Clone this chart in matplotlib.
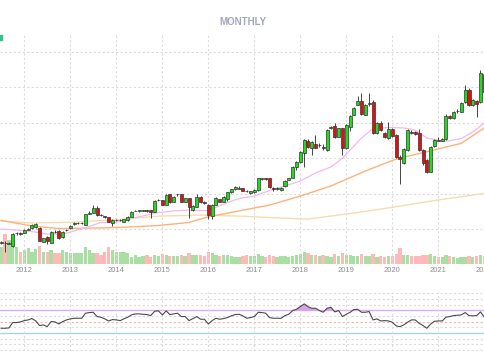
import numpy as np
import pandas as pd
import matplotlib
matplotlib.use("Agg")
import matplotlib.pyplot as plt
import matplotlib.dates as mdates
from matplotlib.patches import Rectangle

# ---------------- data ----------------
months = pd.date_range("2011-07-01", "2022-01-01", freq="MS")

opens = [92.2, 92.4, 91.8, 90.6, 97.5, 98.0, 97.7, 99.7, 100.6, 101.1,
         100.7, 92.8, 95.5, 92.3, 98.6, 99.0, 95.3, 99.2, 100.4, 103.1,
         103.2, 103.3, 102.3, 108.7, 109.2, 111.7, 107.9, 107.3, 106.6, 103.6,
         104.9, 104.9, 103.9, 105.1, 106.9, 110.2, 110.3, 110.4, 110.5, 110.7,
         109.8, 116.1, 116.4, 113.5, 119.6, 115.4, 119.5, 119.6, 115.4, 117.3,
         110.7, 112.6, 118.2, 115.1, 113.5, 107.3, 113.5, 116.8, 115.4, 117.0,
         120.7, 122.4, 122.8, 123.0, 121.4, 120.3, 120.9, 122.0, 128.2, 128.5,
         128.6, 123.1, 122.6, 122.0, 124.0, 127.6, 128.8, 135.1, 138.0, 142.7,
         149.6, 145.9, 147.8, 147.2, 146.0, 144.6, 157.0, 158.3, 152.1, 156.8,
         145.5, 157.5, 164.3, 169.9, 172.4, 164.3, 170.6, 171.8, 154.0, 160.0,
         154.0, 151.2, 156.2, 153.0, 140.8, 137.1, 144.6, 154.9, 154.9, 154.1,
         144.6, 138.9, 132.3, 146.8, 150.0, 149.9, 150.6, 163.7, 162.8, 166.3,
         166.2, 171.8, 178.4, 169.9, 172.4, 171.8, 187.4]
closes = [92.5, 92.1, 92.1, 97.2, 97.7, 97.2, 99.4, 100.0, 102.5, 102.8,
          93.4, 94.8, 93.5, 98.5, 98.3, 94.8, 98.5, 99.7, 101.9, 103.4,
          103.4, 103.5, 108.5, 109.2, 111.7, 107.9, 107.7, 106.6, 104.1, 105.1,
          105.1, 105.2, 105.5, 106.9, 109.8, 110.3, 110.5, 110.5, 110.3, 109.8,
          115.8, 116.4, 113.5, 119.2, 115.4, 118.2, 119.6, 115.4, 117.3, 112.2,
          113.0, 118.2, 115.4, 114.8, 107.9, 113.5, 117.3, 115.4, 118.2, 120.7,
          122.4, 123.5, 123.0, 121.4, 121.3, 121.2, 122.0, 128.6, 128.5, 128.3,
          123.9, 122.8, 122.9, 123.3, 127.2, 128.6, 135.1, 137.6, 143.6, 150.2,
          146.4, 148.9, 145.9, 147.5, 145.7, 155.8, 157.4, 152.1, 156.8, 145.5,
          158.7, 163.9, 168.4, 172.4, 164.7, 169.9, 171.0, 154.0, 159.6, 155.8,
          151.7, 156.2, 152.5, 140.8, 139.3, 145.0, 155.8, 154.0, 153.6, 144.6,
          137.1, 132.3, 146.4, 150.2, 149.9, 150.5, 163.7, 162.4, 166.2, 166.6,
          171.2, 178.4, 169.9, 172.8, 170.5, 187.8, 177.3]
highs = [93.2, 93.0, 92.7, 97.7, 98.6, 98.6, 100.0, 100.6, 103.1, 103.4,
         101.1, 94.9, 95.8, 98.9, 99.2, 99.4, 98.9, 100.3, 102.3, 103.9,
         103.9, 104.0, 108.7, 109.9, 113.3, 113.0, 108.5, 107.6, 106.8, 105.4,
         105.6, 105.7, 105.9, 107.3, 110.2, 111.0, 111.0, 111.0, 111.0, 111.0,
         116.4, 116.9, 116.6, 120.0, 120.0, 118.6, 120.0, 120.0, 117.5, 117.5,
         113.5, 119.7, 118.9, 115.8, 114.1, 114.1, 118.0, 116.9, 118.6, 120.9,
         122.6, 124.0, 124.3, 123.1, 122.0, 121.7, 122.6, 129.0, 129.0, 129.0,
         129.0, 123.7, 123.5, 123.7, 127.6, 129.0, 135.5, 138.1, 144.0, 150.8,
         150.8, 149.6, 153.0, 148.5, 147.9, 156.4, 158.1, 159.8, 157.2, 157.2,
         159.2, 164.3, 168.8, 175.2, 176.7, 170.5, 176.7, 172.8, 160.3, 160.9,
         154.7, 160.4, 156.7, 153.6, 141.7, 145.7, 156.4, 155.6, 155.5, 156.4,
         145.1, 139.5, 146.8, 150.8, 151.9, 151.3, 164.9, 164.3, 166.6, 167.7,
         171.6, 181.2, 179.5, 173.3, 172.8, 189.7, 189.7]
lows = [91.5, 87.2, 91.3, 90.1, 96.9, 96.6, 97.5, 99.2, 100.3, 100.8,
        93.0, 92.7, 91.4, 92.1, 98.0, 94.4, 94.9, 98.9, 100.2, 102.5,
        102.8, 102.8, 102.0, 108.5, 109.0, 107.6, 107.3, 106.2, 103.9, 101.7,
        104.5, 104.3, 103.7, 104.8, 106.8, 109.9, 109.8, 109.9, 109.8, 106.0,
        109.6, 115.8, 113.3, 113.3, 114.9, 115.2, 118.9, 115.2, 115.2, 106.4,
        110.4, 112.4, 114.9, 114.1, 105.6, 105.9, 113.3, 115.2, 115.2, 115.8,
        120.3, 122.0, 122.3, 121.2, 120.8, 119.7, 120.3, 121.7, 127.9, 127.6,
        123.1, 121.4, 122.0, 121.7, 123.8, 127.4, 128.6, 133.3, 137.5, 135.1,
        145.7, 141.7, 145.4, 146.2, 144.6, 144.0, 156.4, 151.3, 151.6, 141.7,
        145.1, 155.3, 164.0, 169.7, 164.3, 164.0, 169.4, 153.6, 153.3, 155.3,
        151.3, 150.8, 151.6, 140.0, 125.4, 136.7, 144.0, 153.6, 153.0, 144.0,
        136.1, 131.6, 131.9, 146.2, 149.6, 149.6, 150.2, 162.0, 162.3, 165.4,
        166.0, 171.3, 169.4, 169.4, 163.3, 171.1, 176.1]
volumes = [17, 30, 24, 27, 17, 12, 14, 16, 12, 15,
           18, 12, 12, 14, 11, 11, 14, 12, 11, 11,
           11, 11, 17, 14, 11, 11, 9, 12, 17, 14,
           12, 12, 12, 11, 7, 9, 7, 8, 9, 7,
           9, 8, 10, 9, 8, 8, 8, 9, 8, 11,
           9, 9, 9, 8, 12, 11, 9, 8, 9, 9,
           8, 7, 7, 8, 9, 8, 8, 10, 8, 7,
           9, 8, 7, 8, 8, 7, 8, 9, 10, 12,
           11, 9, 9, 8, 9, 8, 7, 10, 8, 11,
           9, 9, 8, 8, 10, 8, 8, 10, 7, 8,
           7, 8, 8, 10, 16, 9, 9, 8, 8, 8,
           9, 9, 10, 8, 7, 7, 9, 8, 7, 6,
           7, 7, 8, 7, 8, 9, 8]
rsi = [38.3, 38.3, 38.9, 48.3, 48.3, 49.5, 51.8, 53.0, 55.4, 51.2,
       43.0, 44.2, 41.2, 50.1, 49.5, 45.9, 50.1, 53.0, 54.8, 55.9,
       55.9, 55.9, 64.8, 65.9, 66.5, 58.9, 57.7, 54.8, 51.2, 53.6,
       53.0, 51.8, 54.8, 57.7, 61.8, 63.6, 63.6, 63.0, 62.4, 60.6,
       68.3, 68.9, 61.8, 68.9, 62.4, 63.6, 64.8, 58.9, 58.9, 51.8,
       55.4, 58.9, 54.2, 54.2, 45.9, 51.8, 55.9, 54.2, 55.4, 57.1,
       60.1, 62.4, 63.0, 60.1, 55.9, 57.1, 58.9, 66.5, 65.9, 64.8,
       57.1, 55.9, 55.9, 55.9, 60.6, 63.0, 69.5, 71.8, 76.5, 81.2,
       76.5, 73.6, 73.6, 69.5, 66.5, 73.6, 75.3, 67.1, 69.5, 58.9,
       63.0, 66.5, 71.2, 71.8, 66.5, 66.5, 67.7, 53.0, 54.8, 51.2,
       51.8, 51.2, 48.9, 42.4, 41.2, 44.2, 48.9, 53.0, 53.0, 47.1,
       43.0, 38.3, 45.9, 50.6, 51.2, 51.2, 57.7, 58.9, 60.6, 61.2,
       61.8, 65.9, 60.6, 60.1, 60.6, 67.1, 57.7]

ma_fast_dates = ["2011-07", "2011-11", "2012-03", "2012-07", "2012-11", "2013-02",
                 "2013-05", "2013-09", "2014-01", "2014-06", "2014-12", "2015-04",
                 "2015-08", "2016-01", "2016-05", "2016-09", "2017-01", "2017-05",
                 "2017-09", "2018-01", "2018-05", "2018-09", "2018-12", "2019-02",
                 "2019-05", "2019-08", "2019-12", "2020-04", "2020-07", "2020-10",
                 "2021-03", "2021-07", "2021-10", "2022-01"]
ma_fast = [100.0, 99.4, 98.6, 97.2, 97.2, 98.9, 100.8, 103.7, 103.9, 106.5,
           109.3, 110.2, 110.7, 110.4, 114.1, 117.2, 118.6, 121.7, 124.3, 127.1,
           131.6, 135.0, 139.9, 144.6, 151.3, 156.7, 157.2, 157.0, 155.8, 151.3,
           149.4, 151.0, 154.7, 159.8]
ma_mid_dates = ["2011-07", "2012-03", "2012-10", "2013-09", "2014-07", "2014-12",
                "2015-08", "2016-01", "2016-09", "2017-05", "2018-01", "2018-09",
                "2019-06", "2020-02", "2020-10", "2021-07", "2022-01"]
ma_mid = [104.9, 101.7, 100.3, 100.6, 101.4, 102.0, 103.7, 106.9, 110.2, 113.5,
          118.6, 124.3, 132.7, 139.5, 143.6, 148.3, 157.0]
ma_slow_dates = ["2011-07", "2012-03", "2013-02", "2014-02", "2014-12", "2015-11",
                 "2016-09", "2017-08", "2018-03", "2018-11", "2019-05", "2020-02",
                 "2021-01", "2022-01"]
ma_slow = [104.5, 103.4, 103.9, 105.4, 107.3, 107.9, 107.3, 106.2, 105.6, 107.9,
           109.6, 112.6, 116.4, 120.1]

price_grid = [100, 120, 140, 160, 180, 200]
rsi_grid = [0, 10, 20, 40, 60, 80, 90, 100]

# ---------------- styling ----------------
UP, DOWN = "#1fdc1f", "#e01010"
EDGE = "#333333"
VOL_UP, VOL_DOWN = "#a9dfa3", "#ffb9b9"
GRID = "#dcdcdc"
TICK = "#8f8f8f"

plt.rcParams["font.family"] = ["Liberation Sans", "DejaVu Sans"]

W, H = 485, 360
fig = plt.figure(figsize=(W / 100, H / 100), dpi=100)
fig.patch.set_facecolor("white")

x0 = pd.Timestamp("2011-06-22")
x1 = pd.Timestamp("2022-01-06")

# main price panel
ax = fig.add_axes([0, 1 - 264 / H, 1, 231 / H])
axv = ax.twinx()
ax.set_zorder(axv.get_zorder() + 1)
ax.patch.set_visible(False)

dates = mdates.date2num(months)
o = np.array(opens); c = np.array(closes)
hi = np.array(highs); lo = np.array(lows)
up = c >= o

# volume
axv.bar(dates, volumes, width=27, color=np.where(up, VOL_UP, VOL_DOWN),
        linewidth=0, zorder=1)
axv.set_ylim(0, 231)
axv.set_axis_off()

# grid
ax.set_xlim(x0, x1)
ax.set_ylim(80.3, 210.5)
ax.set_yticks(price_grid)
ax.xaxis.set_major_locator(mdates.YearLocator())
ax.xaxis.set_major_formatter(mdates.DateFormatter("%Y"))
ax.grid(True, color=GRID, linestyle=(0, (2, 2)), linewidth=0.8, zorder=0)
ax.set_axisbelow(True)
for s in ax.spines.values():
    s.set_visible(False)
ax.tick_params(axis="y", left=False, labelleft=False)
ax.tick_params(axis="x", length=0, labelsize=5.5, labelcolor=TICK, pad=2.5)

# moving averages
ax.plot(pd.to_datetime(ma_slow_dates), ma_slow, color="#f7dcae", lw=1.0, zorder=2)
ax.plot(pd.to_datetime(ma_mid_dates), ma_mid, color="#fdb27a", lw=1.0, zorder=2)
ax.plot(pd.to_datetime(ma_fast_dates), ma_fast, color="#f4b8ee", lw=0.9, zorder=2)

# candles
ax.vlines(dates, lo, hi, color="#444444", lw=0.7, zorder=3)
body_lo = np.minimum(o, c)
body_h = np.maximum(np.abs(c - o), 0.25)
ax.bar(dates, body_h, bottom=body_lo, width=24,
       color=np.where(up, UP, DOWN), edgecolor=EDGE, linewidth=0.5, zorder=4)

# title
fig.text(0.5, 1 - 22 / H, "MONTHLY", ha="center", va="center",
         fontsize=7, fontweight="bold", color="#a4a8bd")

# legend remnant at the top-left edge
fig.patches.append(Rectangle((0, 1 - 39.5 / H), 1.6 / W, 4.5 / H,
                             transform=fig.transFigure, color="#2fc486"))

# RSI panel
ar = fig.add_axes([0, 1 - 350.6 / H, 1, 59.1 / H])
ar.set_xlim(x0, x1)
ar.set_ylim(-1, 103)
ar.xaxis.set_major_locator(mdates.YearLocator())
ar.set_yticks(rsi_grid)
ar.grid(True, color=GRID, linestyle=(0, (2, 2)), linewidth=0.8, zorder=0)
for s in ar.spines.values():
    s.set_visible(False)
ar.tick_params(left=False, bottom=False, labelleft=False, labelbottom=False)
ar.axhline(70, color="#deaaf0", lw=1.0, zorder=1)
ar.axhline(30, color="#a9d2ea", lw=1.0, zorder=1)
ar.axhline(50, color="#f6b0b0", lw=0.8, linestyle=(0, (2, 2)), zorder=1)
r = np.array(rsi)
ar.fill_between(dates, r, 70, where=r > 70, interpolate=True,
                color="#d294e0", alpha=0.85, linewidth=0, zorder=2)
ar.plot(dates, r, color="#4a4a4a", lw=0.8, zorder=3)

fig.savefig("out.png", dpi=100, facecolor="white")
